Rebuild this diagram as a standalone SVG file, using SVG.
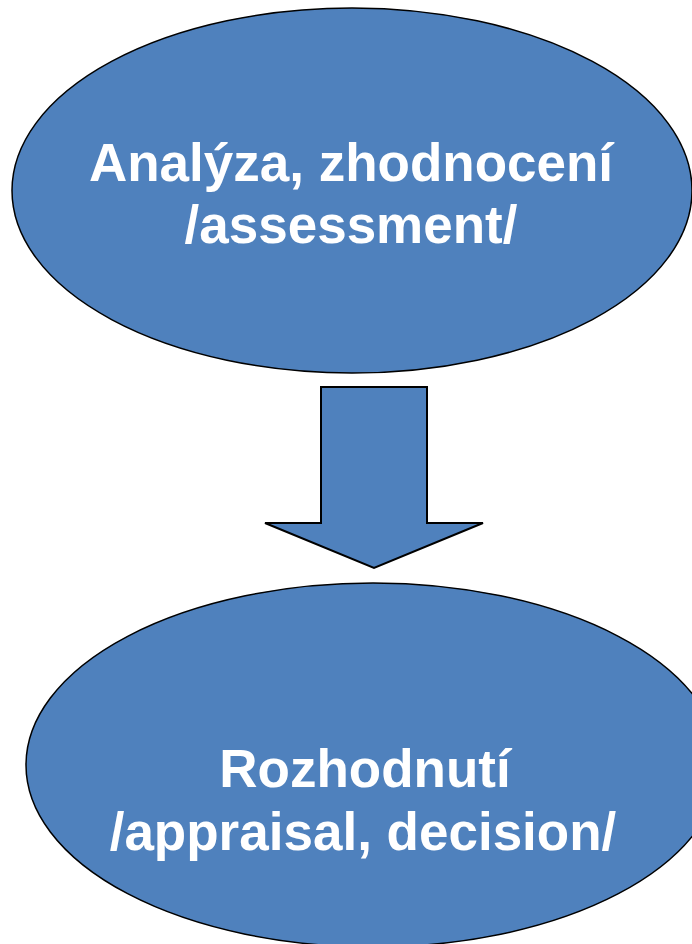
<svg xmlns="http://www.w3.org/2000/svg" width="692" height="944" viewBox="0 0 692 944">
<style>
.node{fill:#4F81BD;stroke:#000;stroke-width:1.5}
.arrow{fill:#4F81BD;stroke:#000;stroke-width:2;stroke-linejoin:miter}
.lbl{font-family:"Liberation Sans",Arial,sans-serif;font-weight:bold;font-size:53px;fill:#fff;text-anchor:middle}
</style>
<rect width="692" height="944" fill="#fff"/>
<g id="assessment">
<ellipse class="node" cx="352" cy="190.5" rx="340" ry="182.5"/>
<text class="lbl" x="351" y="181">Analýza, zhodnocení</text>
<text class="lbl" x="351" y="243">/assessment/</text>
</g>
<g id="connectors">
<polygon class="arrow" points="321,387 427,387 427,523 483,523 374,568 265,523 321,523"/>
</g>
<g id="decision">
<ellipse class="node" cx="373" cy="765" rx="347" ry="182"/>
<text class="lbl" x="365" y="787">Rozhodnutí</text>
<text class="lbl" x="363" y="850">/appraisal, decision/</text>
</g>
</svg>
